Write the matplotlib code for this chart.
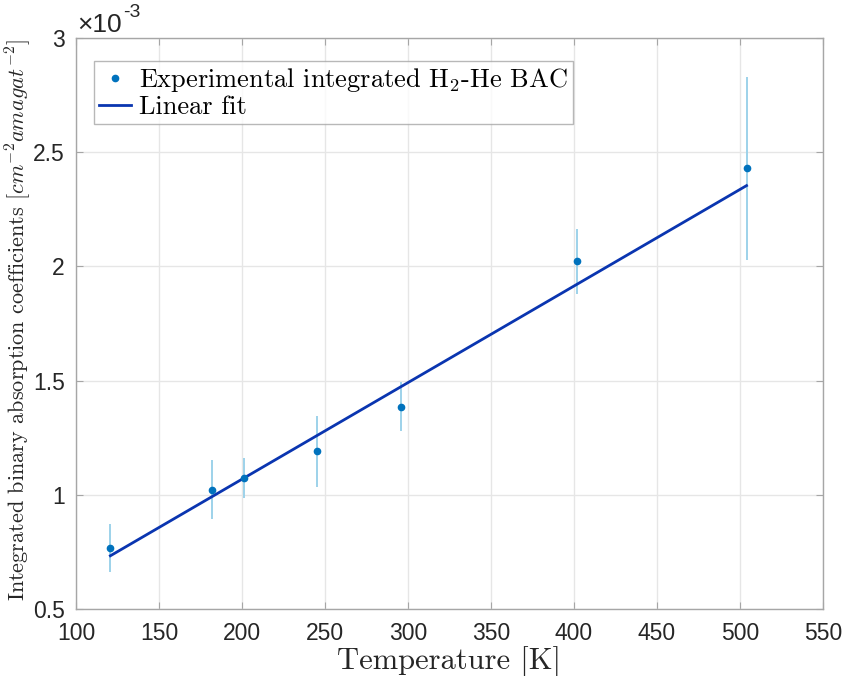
import numpy as np
import matplotlib.pyplot as plt
from matplotlib.ticker import FuncFormatter

# Datos (coeficientes en cm^-2 amagat^-2)
temperature = [120.7, 181.9, 201.4, 245.2, 296.0, 401.8, 504.0]
bac = [0.766e-3, 1.023e-3, 1.073e-3, 1.192e-3, 1.386e-3, 2.022e-3, 2.429e-3]
bac_err = [0.105e-3, 0.130e-3, 0.087e-3, 0.155e-3, 0.107e-3, 0.142e-3, 0.400e-3]

# Ajuste lineal (pendiente y ordenada leidas)
fit_slope = 0.004224e-3
fit_intercept = 0.2242e-3

x_ticks = [100, 150, 200, 250, 300, 350, 400, 450, 500, 550]
y_ticks = [0.5, 1, 1.5, 2, 2.5, 3]

plt.rcParams['mathtext.fontset'] = 'cm'
plt.rcParams['font.family'] = ['Liberation Sans', 'DejaVu Sans']
plt.rcParams['axes.unicode_minus'] = False

scale = 1e3
T = np.array(temperature)
y = np.array(bac) * scale
yerr = np.array(bac_err) * scale

fig = plt.figure(figsize=(8.42, 6.76), dpi=100)
ax = fig.add_axes([0.0903, 0.0987, 0.887, 0.8455])

ax.errorbar(T, y, yerr=yerr, fmt='none', ecolor='#9dd2ea', elinewidth=1.4, capsize=0, zorder=2)
ax.plot(T, y, 'o', color='#0072BD', markersize=4.5, zorder=4,
        label='Experimental integrated H$_2$-He BAC')

T_fit = np.array([T[0], T[-1]])
ax.plot(T_fit, (fit_slope * T_fit + fit_intercept) * scale, color='#0a35b0', linewidth=2,
        zorder=3, label='Linear fit')

ax.set_xlim(100, 550)
ax.set_ylim(0.5, 3)
ax.set_xticks(x_ticks)
ax.set_yticks(y_ticks)
ax.yaxis.set_major_formatter(FuncFormatter(lambda v, p: '%g' % v))

ax.grid(True, color='#e6e6e6', linewidth=1)
ax.set_axisbelow(True)
for s in ax.spines.values():
    s.set_color('#a6a6a6')
    s.set_linewidth(1)
ax.tick_params(direction='in', length=5, width=0.8, color='#a6a6a6', labelsize=16.5,
               labelcolor='#262626', top=True, right=True)
ax.tick_params(axis='x', pad=9)
ax.tick_params(axis='y', pad=8)

ax.set_xlabel('Temperature [K]', fontfamily='cmr10', fontsize=22, color='#262626', labelpad=1)
ax.set_ylabel('Integrated binary absorption coefficients $[cm^{-2}amagat^{-2}]$',
              fontfamily='cmr10', fontsize=16, color='#262626')
ax.yaxis.set_label_coords(-0.057, 0.506)

# multiplicador estilo MATLAB
ax.text(0.002, 1.002, '×10', transform=ax.transAxes, fontsize=19,
        color='#262626', va='bottom', ha='left')
ax.text(0.063, 1.030, '-3', transform=ax.transAxes, fontsize=14,
        color='#262626', va='bottom', ha='left')

leg = ax.legend(loc='upper left', bbox_to_anchor=(0.024, 0.96), prop={'family': 'cmr10', 'size': 19},
                frameon=True, fancybox=False, edgecolor='#a6a6a6', handlelength=1.2,
                handletextpad=0.3, borderpad=0.2, labelspacing=0.05, borderaxespad=0)
leg.get_frame().set_linewidth(1)

plt.savefig('out.png', dpi=100)
